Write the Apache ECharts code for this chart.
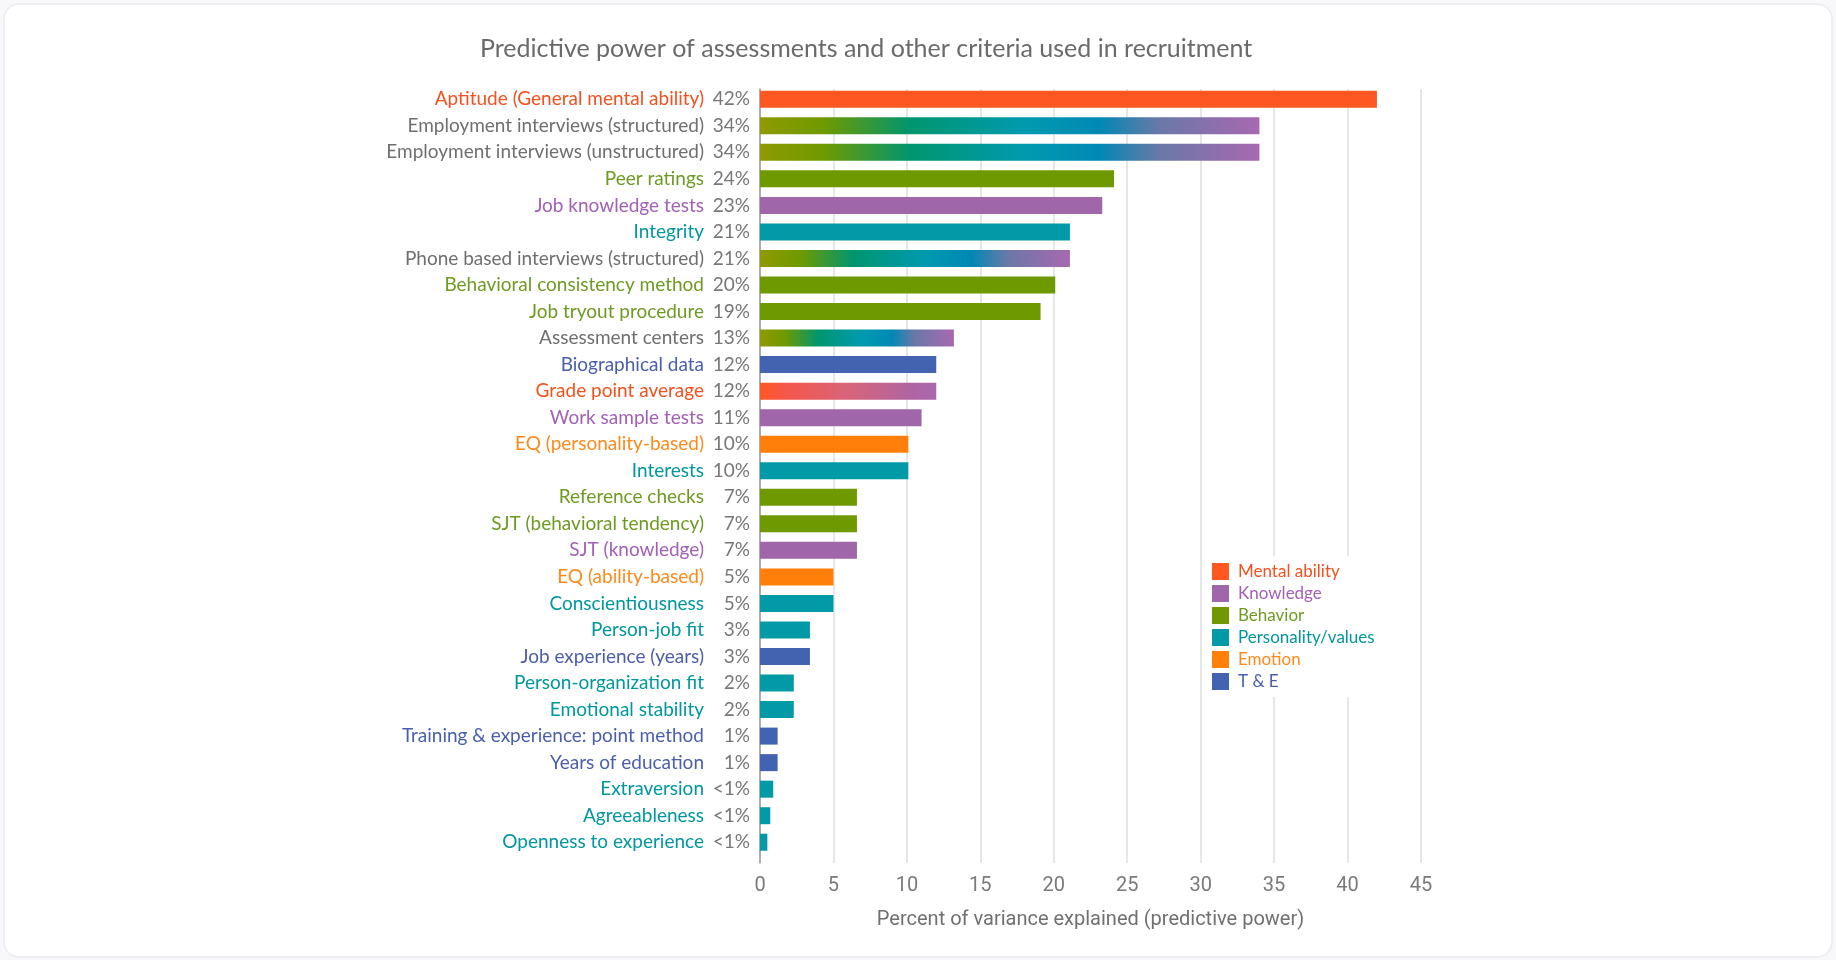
<!DOCTYPE html>
<html>
<head>
<meta charset="utf-8">
<title>Predictive power of assessments</title>
<script src="https://cdn.jsdelivr.net/npm/echarts@6/dist/echarts.min.js"></script>
<style>
    html, body { margin: 0; padding: 0; background: #f8f8fa; }
    #card { position: absolute; left: 3px; top: 3px; width: 1826px; height: 951px;
            background: #fff; border: 2px solid #eeeef2; border-radius: 16px; }
    #chart { position: absolute; left: 0; top: 0; width: 1836px; height: 960px; }
</style>
</head>
<body>
<div id="card"></div>
<div id="chart"></div>
<script>
// 评估方式（从上到下）
var categories = [
    'Aptitude (General mental ability)', 'Employment interviews (structured)',
    'Employment interviews (unstructured)', 'Peer ratings', 'Job knowledge tests',
    'Integrity', 'Phone based interviews (structured)', 'Behavioral consistency method',
    'Job tryout procedure', 'Assessment centers', 'Biographical data', 'Grade point average',
    'Work sample tests', 'EQ (personality-based)', 'Interests', 'Reference checks',
    'SJT (behavioral tendency)', 'SJT (knowledge)', 'EQ (ability-based)', 'Conscientiousness',
    'Person-job fit', 'Job experience (years)', 'Person-organization fit', 'Emotional stability',
    'Training & experience: point method', 'Years of education', 'Extraversion',
    'Agreeableness', 'Openness to experience'
];
var values = [42, 34, 34, 24.1, 23.3, 21.1, 21.1, 20.1, 19.1, 13.2, 12, 12, 11, 10.1, 10.1,
    6.6, 6.6, 6.6, 5, 5, 3.4, 3.4, 2.3, 2.3, 1.2, 1.2, 0.9, 0.7, 0.5];
var pctLabels = ['42%', '34%', '34%', '24%', '23%', '21%', '21%', '20%', '19%', '13%', '12%',
    '12%', '11%', '10%', '10%', '7%', '7%', '7%', '5%', '5%', '3%', '3%', '2%', '2%', '1%',
    '1%', '<1%', '<1%', '<1%'];
// 标签颜色所属类别，null 表示混合（灰色）
var labelGroups = ['Mental ability', null, null, 'Behavior', 'Knowledge', 'Personality/values',
    null, 'Behavior', 'Behavior', null, 'T & E', 'Mental ability', 'Knowledge', 'Emotion',
    'Personality/values', 'Behavior', 'Behavior', 'Knowledge', 'Emotion', 'Personality/values',
    'Personality/values', 'T & E', 'Personality/values', 'Personality/values', 'T & E', 'T & E',
    'Personality/values', 'Personality/values', 'Personality/values'];
// 柱子颜色：单一类别或混合渐变
var barBlends = ['Mental ability', 'BPK', 'BPK', 'Behavior', 'Knowledge', 'Personality/values',
    'BPK', 'Behavior', 'Behavior', 'BPK', 'T & E', 'MK', 'Knowledge', 'Emotion',
    'Personality/values', 'Behavior', 'Behavior', 'Knowledge', 'Emotion', 'Personality/values',
    'Personality/values', 'T & E', 'Personality/values', 'Personality/values', 'T & E', 'T & E',
    'Personality/values', 'Personality/values', 'Personality/values'];
var legendNames = ['Mental ability', 'Knowledge', 'Behavior', 'Personality/values', 'Emotion', 'T & E'];
var xTicks = { min: 0, max: 45, step: 5 };

var barColors = {
    'Mental ability': '#ff5722',
    'Knowledge': '#a066aa',
    'Behavior': '#6f9900',
    'Personality/values': '#019aa6',
    'Emotion': '#ff7f0a',
    'T & E': '#4264b0'
};
var textColors = {
    'Mental ability': '#f4511e',
    'Knowledge': '#a260b6',
    'Behavior': '#6e9a22',
    'Personality/values': '#00979e',
    'Emotion': '#ff8a1a',
    'T & E': '#4a5eab'
};
var gray = '#6f6f6f';
var font = 'Lato';
var labelSize = 19;

function gradient(stops) {
    return new echarts.graphic.LinearGradient(0, 0, 1, 0, stops.map(function(s) {
        return { offset: s[0], color: s[1] };
    }));
}
var blends = {
    BPK: [[0, '#8f9a00'], [0.13, '#6e9a00'], [0.3, '#00966e'], [0.53, '#009aaf'],
          [0.68, '#0088b5'], [0.8, '#6a78a8'], [1, '#a868b0']],
    MK: [[0, '#ff5722'], [0.15, '#f5574a'], [0.5, '#d8647a'], [0.85, '#b064a0'], [1, '#a868b0']]
};

var barData = values.map(function(v, i) {
    var b = barBlends[i];
    var color = blends[b] ? gradient(blends[b]) : barColors[b];
    return { value: v, itemStyle: { color: color } };
});

var myChart = echarts.init(document.getElementById('chart'));
var option = {
    animation: false,
    title: {
        text: 'Predictive power of assessments and other criteria used in recruitment',
        left: 480,
        top: 36,
        padding: 0,
        textStyle: { fontFamily: font, fontSize: 25, fontWeight: 'normal', color: '#6a6a6a' }
    },
    legend: {
        orient: 'vertical',
        left: 1205,
        top: 556,
        padding: [7, 12, 7, 7],
        backgroundColor: '#fff',
        itemWidth: 17,
        itemHeight: 17,
        itemGap: 5,
        icon: 'rect',
        data: legendNames.map(function(n) {
            return { name: n, textStyle: { color: textColors[n] } };
        }),
        textStyle: { fontFamily: font, fontSize: 17, padding: [0, 0, 0, 4] },
        selectedMode: false
    },
    grid: [
        // 网格线
        { left: 760, right: 415, top: 89, bottom: 97 },
        // 柱子
        { left: 760, right: 415, top: 86, bottom: 104.5 }
    ],
    xAxis: [{
        gridIndex: 0,
        type: 'value',
        min: xTicks.min,
        max: xTicks.max,
        interval: xTicks.step,
        name: 'Percent of variance explained (predictive power)',
        nameLocation: 'middle',
        nameGap: 47,
        nameTextStyle: { fontFamily: 'Roboto', fontSize: 20, color: '#707070' },
        axisLine: { show: false },
        axisTick: { show: false },
        axisLabel: { margin: 13, fontFamily: 'Roboto', fontSize: 20, color: '#7a7a7a' },
        splitLine: { lineStyle: { color: '#dedede', width: 1.5 } }
    }, {
        gridIndex: 1,
        type: 'value',
        min: xTicks.min,
        max: xTicks.max,
        show: false
    }],
    yAxis: [{
        gridIndex: 0,
        type: 'value',
        min: 0,
        max: 1,
        axisLine: { show: true, lineStyle: { color: '#9a9a9a', width: 1.5 } },
        axisTick: { show: false },
        axisLabel: { show: false },
        splitLine: { show: false }
    }, {
        gridIndex: 1,
        type: 'category',
        inverse: true,
        data: categories,
        axisLine: { show: false },
        axisTick: { show: false },
        axisLabel: {
            margin: 10,
            formatter: function(val, i) {
                var g = labelGroups[i];
                var key = g ? 'g' + legendNames.indexOf(g) : 'mix';
                return '{' + key + '|' + val + '}{p|' + pctLabels[i] + '}';
            },
            rich: (function() {
                var r = {
                    mix: { fontFamily: font, fontSize: labelSize, color: gray },
                    p: { fontFamily: font, fontSize: labelSize, color: '#777', width: 46, align: 'right' }
                };
                legendNames.forEach(function(n, k) {
                    r['g' + k] = { fontFamily: font, fontSize: labelSize, color: textColors[n] };
                });
                return r;
            })()
        }
    }],
    series: [{
        name: 'Predictive power',
        type: 'bar',
        xAxisIndex: 1,
        yAxisIndex: 1,
        barWidth: 17,
        data: barData
    }].concat(legendNames.map(function(n) {
        return {
            name: n,
            type: 'scatter',
            xAxisIndex: 1,
            yAxisIndex: 1,
            itemStyle: { color: barColors[n], opacity: 1 },
            data: []
        };
    }))
};
myChart.setOption(option);
</script>
</body>
</html>
